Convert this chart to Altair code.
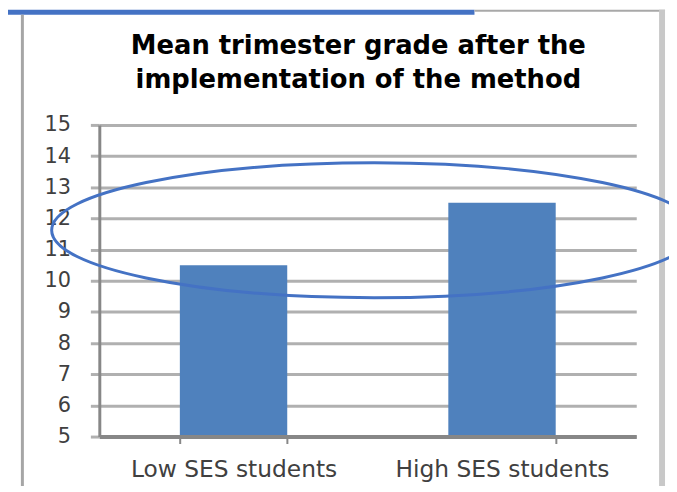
import altair as alt
import pandas as pd

# ---- data ----
categories = ["Low SES students", "High SES students"]
grades = [10.5, 12.5]
y_ticks = [5, 6, 7, 8, 9, 10, 11, 12, 13, 14, 15]
title_lines = ["Mean trimester grade after the", "implementation of the method"]
highlight_level = [11.62]   # grade level on which the hand-drawn ellipse is centred

df = pd.DataFrame({"group": categories, "grade": grades})
one = pd.DataFrame({"k": [0]})

W, H = 541, 314
FONT = "DejaVu Sans"

y_scale = alt.Scale(domain=[5, 15], nice=False, zero=False, clamp=True)
y_axis = alt.Axis(title=None, values=y_ticks, grid=True, gridColor="#b0b0b0",
                  gridWidth=3, domainColor="#878787", domainWidth=3,
                  tickColor="#b0b0b0", tickSize=9, tickWidth=3, labelFont=FONT,
                  labelFontSize=21, labelColor="#404040", labelPadding=20,
                  labelOverlap=False)

bars = alt.Chart(df).mark_bar(color="#4f81bd").encode(
    x=alt.X(
        "group:N", sort=categories,
        scale=alt.Scale(paddingInner=0.6, paddingOuter=0.3),
        axis=alt.Axis(title=None, labelAngle=0, labelFont=FONT, labelFontSize=23.5,
                      labelColor="#404040", labelPadding=14, labelLimit=400,
                      domainColor="#878787", domainWidth=4, ticks=True,
                      tickBand="extent", tickSize=7, tickColor="#878787",
                      tickWidth=2, grid=False, zindex=1),
    ),
    y=alt.Y("grade:Q", scale=y_scale, axis=y_axis),
)

ell_path = ("M -1 0 C -1 -0.1155 -0.5523 -0.209 0 -0.209 "
            "C 0.5523 -0.209 1 -0.1155 1 0 "
            "C 1 0.1155 0.5523 0.209 0 0.209 "
            "C -0.5523 0.209 -1 0.1155 -1 0 Z")
ellipse = alt.Chart(pd.DataFrame({"level": highlight_level})).mark_point(
    shape=ell_path, size=650 * 650, filled=False, stroke="#4472c4",
    strokeWidth=3, opacity=1, clip=False,
).encode(x=alt.value(277), y=alt.Y("level:Q", scale=y_scale, axis=y_axis))

title = alt.Chart(one).mark_text(
    text=title_lines, font=FONT, fontWeight="bold", fontSize=26, lineHeight=34,
    align="center", baseline="alphabetic", color="#000000",
).encode(x=alt.value(261), y=alt.value(-71))


def deco(x, x2, y, y2, color):
    return alt.Chart(one).mark_rect(color=color, clip=False).encode(
        x=alt.value(x), x2=alt.value(x2), y=alt.value(y), y2=alt.value(y2))


frame = [
    deco(-92, 378, -116, -111, "#4472c4"),   # blue strip at the top
    deco(378, 570, -116, -114, "#a8a8a8"),   # top frame line
    deco(-79, -76, -111, 370, "#a6a6a6"),    # left frame line
    deco(564, 570, -116, 370, "#c8c8c8"),    # right frame line
]

chart = alt.layer(*frame, bars, ellipse, title).properties(
    width=W, height=H,
    autosize=alt.AutoSizeParams(type="none"),
    padding={"left": 92, "top": 116, "right": 33, "bottom": 48},
    background="white",
).configure_view(stroke=None)

chart.save("out.html", embed_options={"renderer": "svg", "actions": False})
